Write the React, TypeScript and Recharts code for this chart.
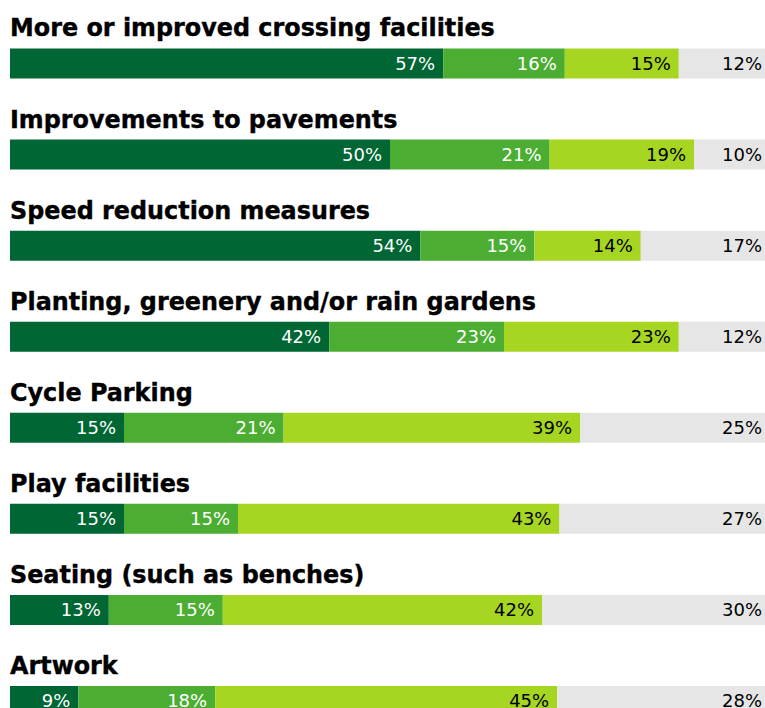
import { BarChart, Bar, XAxis, YAxis, LabelList } from "recharts"

const categories = [
  "More or improved crossing facilities",
  "Improvements to pavements",
  "Speed reduction measures",
  "Planting, greenery and/or rain gardens",
  "Cycle Parking",
  "Play facilities",
  "Seating (such as benches)",
  "Artwork",
]

// segment lengths as drawn (percent of respondents)
const first = [57, 50, 54, 42, 15, 15, 13, 9]
const second = [16, 21, 15, 23, 21, 15, 15, 18]
const third = [15, 19, 14, 23, 39, 42.3, 42, 45]
const rest = [12, 10, 17, 12, 25, 27.7, 30, 28]

// printed labels (rounded separately in the source)
const thirdLabels = [15, 19, 14, 23, 39, 43, 42, 45]
const restLabels = [12, 10, 17, 12, 25, 27, 30, 28]

const data = categories.map((name, i) => ({
  name,
  a: first[i],
  b: second[i],
  c: third[i],
  d: rest[i],
  cLabel: thirdLabels[i],
  dLabel: restLabels[i],
}))

const FONT = "'DejaVu Sans', Verdana, sans-serif"

// category title drawn above each bar
const TitleLabel = (props: any) => {
  const { y, index } = props
  const ty = y - 12
  return (
    <text
      x={10}
      y={ty}
      fontFamily={FONT}
      fontWeight="bold"
      fontSize={25}
      fill="#000"
      stroke="#000"
      strokeWidth={0.4}
      transform={`translate(10 0) scale(0.955 1) translate(-10 0)`}
    >
      {categories[index]}
    </text>
  )
}

const pct = (v: any) => `${v}%`

export default function App() {
  const labelStyle = { fontFamily: FONT, fontSize: 18 }
  return (
    <div style={{ position: "absolute", left: 0, top: 0, width: 765, height: 708, overflow: "hidden", background: "#fff" }}>
      <BarChart
        width={780}
        height={746}
        data={data}
        layout="vertical"
        margin={{ top: 17.5, right: 10, bottom: 0, left: 10 }}
        barSize={30}
      >
        <XAxis type="number" domain={[0, 100]} hide />
        <YAxis type="category" dataKey="name" hide />
        <Bar dataKey="a" stackId="s" fill="#006633" isAnimationActive={false}>
          <LabelList dataKey="a" content={TitleLabel} />
          <LabelList dataKey="a" position="insideRight" offset={8} formatter={pct} fill="#fff" style={labelStyle} />
        </Bar>
        <Bar dataKey="b" stackId="s" fill="#4bae32" isAnimationActive={false}>
          <LabelList dataKey="b" position="insideRight" offset={8} formatter={pct} fill="#fff" style={labelStyle} />
        </Bar>
        <Bar dataKey="c" stackId="s" fill="#a6d622" isAnimationActive={false}>
          <LabelList dataKey="cLabel" position="insideRight" offset={8} formatter={pct} fill="#000" style={labelStyle} />
        </Bar>
        <Bar dataKey="d" stackId="s" fill="#e6e6e6" isAnimationActive={false}>
          <LabelList dataKey="dLabel" position="insideRight" offset={8} formatter={pct} fill="#000" style={labelStyle} />
        </Bar>
      </BarChart>
    </div>
  )
}
